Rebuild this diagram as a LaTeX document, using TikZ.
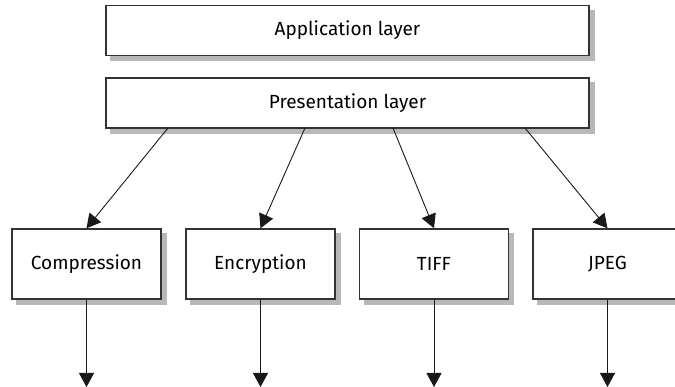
\documentclass[tikz,border=0pt]{standalone}
\usepackage{fontspec}
\setmainfont{Fira Sans}
\usetikzlibrary{arrows.meta,backgrounds,calc}
\begin{document}
\begin{tikzpicture}[x=1pt,y=-1pt,
  box/.style={draw=black!80, line width=1.4pt, fill=white, inner sep=0pt,
    font=\fontsize{19}{22}\selectfont, text=black},
  wide/.style={box, minimum width=483pt, minimum height=50pt},
  small/.style={box, minimum width=149pt, minimum height=70pt},
  shade/.style={fill=black!28},
  arr/.style={draw=black!90, line width=0.9pt, -{Triangle[length=14pt,width=15pt]}}]
\useasboundingbox (0,0) rectangle (675,387);
\node[wide] (app) at (347.5,30.5) {Application layer};
\node[wide] (pres) at (347.5,103) {Presentation layer};
\node[small] (comp) at (86.5,264) {Compression};
\node[small] (enc) at (260.5,264) {Encryption};
\node[small] (tiff) at (434,264) {TIFF};
\node[small] (jpeg) at (607.5,264) {JPEG};
\begin{scope}[on background layer]
  \foreach \n in {app,pres,comp,enc,tiff,jpeg}
    \fill[shade] ($(\n.north west)+(5,5)$) rectangle ($(\n.south east)+(5,5)$);
\end{scope}
\coordinate (p1) at (168,128);
\coordinate (p2) at (305,128);
\coordinate (p3) at (393,128);
\coordinate (p4) at (525,128);
\coordinate (e1) at (86.5,387);
\coordinate (e2) at (260.5,387);
\coordinate (e3) at (434,387);
\coordinate (e4) at (607.5,387);
\draw[arr] (p1) -- (comp.north);
\draw[arr] (p2) -- (enc.north);
\draw[arr] (p3) -- (tiff.north);
\draw[arr] (p4) -- (jpeg.north);
\draw[arr] (comp.south) -- (e1);
\draw[arr] (enc.south) -- (e2);
\draw[arr] (tiff.south) -- (e3);
\draw[arr] (jpeg.south) -- (e4);
\end{tikzpicture}
\end{document}
